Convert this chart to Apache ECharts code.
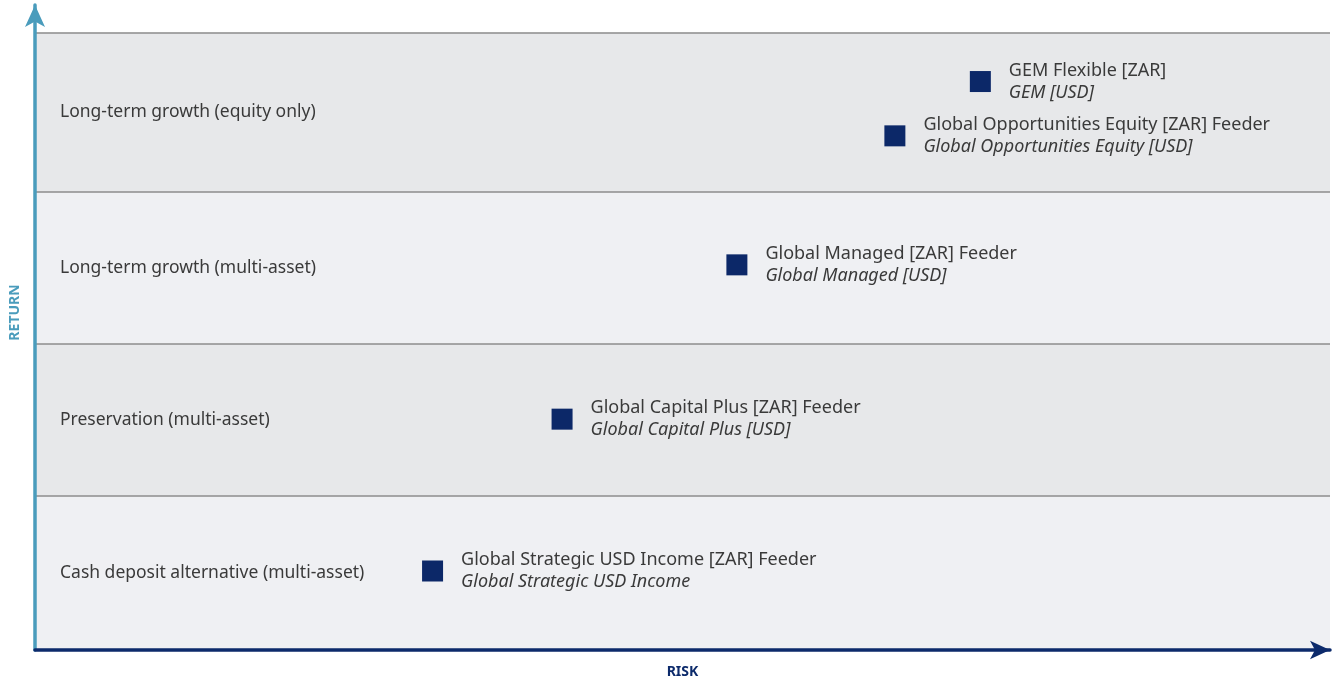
<!DOCTYPE html>
<html lang="en">
<head>
    <meta charset="UTF-8">
    <title>Risk / Return</title>
    <script type="text/javascript" src="https://cdn.jsdelivr.net/npm/echarts@6/dist/echarts.min.js"></script>
    <style>
        html, body {margin: 0; padding: 0; background: #fff;}
    </style>
</head>
<body>
<div id="main" style="width: 1336px;height:681px;"></div>
<script>
    // band categories, bottom to top
    var bandNames = ['Cash deposit alternative (multi-asset)', 'Preservation (multi-asset)',
        'Long-term growth (multi-asset)', 'Long-term growth (equity only)'];
    var bandEdges = [0, 25, 49.6, 74.2, 100];

    // funds
    var fundNames = ['GEM Flexible [ZAR]', 'Global Opportunities Equity [ZAR] Feeder', 'Global Managed [ZAR] Feeder',
        'Global Capital Plus [ZAR] Feeder', 'Global Strategic USD Income [ZAR] Feeder'];
    var fundSubNames = ['GEM [USD]', 'Global Opportunities Equity [USD]', 'Global Managed [USD]',
        'Global Capital Plus [USD]', 'Global Strategic USD Income'];
    var riskValues = [73.0, 66.4, 54.2, 40.7, 30.7];
    var returnValues = [92.1, 83.3, 62.4, 37.4, 12.8];

    var FONT = 'Noto Sans';
    var myChart = echarts.init(document.getElementById('main'));

    var areas = [];
    for (var i = 0; i < bandNames.length; i++) {
        areas.push([{
            name: bandNames[i],
            yAxis: bandEdges[i],
            itemStyle: {color: i % 2 === 0 ? '#eff0f3' : '#e7e8ea', opacity: 1}
        }, {yAxis: bandEdges[i + 1]}]);
    }
    var lines = [];
    for (var j = 1; j < bandEdges.length; j++) {
        lines.push({yAxis: bandEdges[j]});
    }

    var points = [];
    for (var k = 0; k < fundNames.length; k++) {
        points.push({
            value: [riskValues[k], returnValues[k]],
            name: fundNames[k],
            sub: fundSubNames[k]
        });
    }

    var option = {
        animation: false,
        textStyle: {fontFamily: FONT},
        grid: {left: 35, right: 6, top: 5, bottom: 31, outerBoundsMode: 'none'},
        xAxis: {
            type: 'value', min: 0, max: 100, z: 20,
            name: 'RISK', nameLocation: 'middle', nameGap: 15,
            nameTextStyle: {color: '#0c2a6b', fontWeight: 'bold', fontSize: 14, fontFamily: FONT},
            axisLine: {show: true, symbol: ['none', 'arrow'], symbolSize: [14, 20],
                lineStyle: {color: '#0c2a6b', width: 3.5}},
            axisTick: {show: false}, axisLabel: {show: false}, splitLine: {show: false}
        },
        yAxis: {
            type: 'value', min: 0, max: 104.5, z: 20,
            name: 'RETURN', nameLocation: 'middle', nameGap: 13, nameRotate: 90,
            nameTextStyle: {color: '#4a9cbc', fontWeight: 'bold', fontSize: 14, fontFamily: FONT,
                padding: [0, 0, 0, 30]},
            axisLine: {show: true, symbol: ['none', 'arrow'], symbolSize: [15, 22],
                lineStyle: {color: '#4a9cbc', width: 3.5}},
            axisTick: {show: false}, axisLabel: {show: false}, splitLine: {show: false}
        },
        series: [{
            type: 'scatter',
            symbol: 'rect',
            symbolSize: 21,
            itemStyle: {color: '#0c2868', opacity: 1},
            data: points,
            label: {
                show: true,
                position: 'right',
                distance: 18,
                formatter: function (p) {
                    return '{a|' + p.data.name + '}\n{b|' + p.data.sub + '}';
                },
                rich: {
                    a: {fontSize: 18, color: '#3a3a3a', lineHeight: 22, fontFamily: FONT},
                    b: {fontSize: 18, color: '#3a3a3a', lineHeight: 22, fontStyle: 'italic', fontFamily: FONT}
                }
            },
            markArea: {
                silent: true,
                label: {show: true, position: 'insideLeft', distance: 25, color: '#3a3a3a', fontSize: 17.5, fontFamily: FONT},
                data: areas
            },
            markLine: {
                silent: true,
                symbol: 'none',
                label: {show: false},
                lineStyle: {color: '#8c8c8c', width: 1.5, type: 'solid'},
                data: lines
            },
            z: 5
        }]
    };

    myChart.setOption(option);
</script>
</body>
</html>
